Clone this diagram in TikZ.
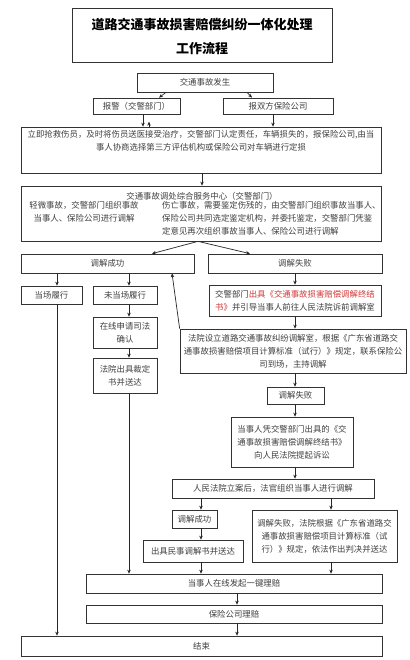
\documentclass[tikz,border=0pt]{standalone}
\usepackage{fontspec}
\setmainfont{Noto Sans CJK SC}
\usetikzlibrary{arrows.meta}
\definecolor{hong}{RGB}{210,55,55}
\newcommand{\zsz}{\fontsize{8.4}{13}\selectfont}
\newcommand{\btz}{\fontsize{13}{24}\selectfont\bfseries}

\begin{document}
\begin{tikzpicture}[x=1pt,y=-1pt,
  kuang/.style={draw=black!80,line width=0.7pt,inner sep=0pt,align=center,
                font=\zsz,text=black!75},
  wen/.style={inner sep=0pt,font=\zsz,text=black!75},
  jt/.style={-{Stealth[length=4pt,width=3.5pt]},draw=black!85,line width=0.7pt}]
  \fill[white] (0,0) rectangle (409,660);
  \useasboundingbox (0,0) rectangle (409,660);
  % x positions of the connectors
  \foreach \x in {57,129,143,149,152,159,166,172,198,201,202,237,247,250,252,273,295,331}
    \coordinate (k\x) at (\x,0);
  % title
  \node[kuang,line width=1pt,minimum width=260,minimum height=54,font=\btz,text=black]
    (bt) at (202,36) {道路交通事故损害赔偿纠纷一体化处理\\工作流程};
  % top part
  \node[kuang,minimum width=136,minimum height=19] (fs)  at (205,82.5) {交通事故发生};
  \node[kuang,minimum width=87,minimum height=16]  (bj)  at (136.5,106) {报警（交警部门）};
  \node[kuang,minimum width=110,minimum height=16] (bx)  at (278,106) {报双方保险公司};
  \node[kuang,minimum width=360,minimum height=46] (lj)  at (201,150) {};
  \node[wen,anchor=north,align=center] (ljw) at ([yshift=-4pt]lj.north)
    {立即抢救伤员，及时将伤员送医接受治疗，交警部门认定责任，车辆损失的，报保险公司,由当\\
     事人协商选择第三方评估机构或保险公司对车辆进行定损};
  \node[kuang,minimum width=360,minimum height=55] (tc)  at (201,213.5) {};
  \node[wen] (tcw) at (202,196) {交通事故调处综合服务中心（交警部门）};
  \node[wen,align=center] (qw) at (84,211.5)
    {轻微事故，交警部门组织事故\\当事人、保险公司进行调解};
  \node[wen,align=left,anchor=west] (sw) at (162,218)
    {伤亡事故，需要鉴定伤残的，由交警部门组织事故当事人、\\
     保险公司共同选定鉴定机构，并委托鉴定，交警部门凭鉴\\
     定意见再次组织事故当事人、保险公司进行调解};
  \node[kuang,minimum width=173,minimum height=19] (cg1) at (107.5,263.5) {调解成功};
  \node[kuang,minimum width=174,minimum height=19] (sb1) at (295,263.5) {调解失败};
  % left column
  \node[kuang,minimum width=61,minimum height=18]  (dc)  at (51.5,295) {当场履行};
  \node[kuang,minimum width=64,minimum height=18]  (wdc) at (125,295) {未当场履行};
  \node[kuang,minimum width=64,minimum height=31]  (zx)  at (125,332.5) {在线申请司法\\确认};
  \node[kuang,minimum width=64,minimum height=35]  (cd)  at (125,375.5) {法院出具裁定\\书并送达};
  % right column
  \node[kuang,minimum width=172,minimum height=31] (cj)  at (295,300.5)
    {交警部门\textcolor{hong}{出具《交通事故损害赔偿调解终结}\\
     \textcolor{hong}{书》}并引导当事人前往人民法院诉前调解室};
  \node[kuang,minimum width=226,minimum height=44] (fy)  at (293,351)
    {法院设立道路交通事故纠纷调解室，根据《广东省道路交\\
     通事故损害赔偿项目计算标准（试行）》规定，联系保险公\\
     司到场，主持调解};
  \node[kuang,minimum width=57,minimum height=17]  (sb2) at (295.5,395.5) {调解失败};
  \node[kuang,minimum width=122,minimum height=50] (ss)  at (292,442)
    {当事人凭交警部门出具的《交\\通事故损害赔偿调解终结书》\\向人民法院提起诉讼};
  \node[kuang,minimum width=202,minimum height=19] (la)  at (273,488.5)
    {人民法院立案后，法官组织当事人进行调解};
  \node[kuang,minimum width=45,minimum height=18]  (cg2) at (194.5,519) {调解成功};
  \node[kuang,minimum width=145,minimum height=52] (pj)  at (324.5,536)
    {调解失败，法院根据《广东省道路交\\通事故损害赔偿项目计算标准（试\\行）》规定，依法作出判决并送达};
  \node[kuang,minimum width=100,minimum height=22] (ms)  at (193,551) {出具民事调解书并送达};
  % bottom part
  \node[kuang,minimum width=296,minimum height=19] (lp)  at (234,583.5) {当事人在线发起一键理赔};
  \node[kuang,minimum width=296,minimum height=18] (bl)  at (234,614) {保险公司理赔};
  \node[kuang,minimum width=361,minimum height=20] (end) at (201.5,646) {结束};
  % connectors
  \draw[jt] (fs.south -| k166) -- (bj.north -| k159);
  \draw[jt] (fs.south -| k247) -- (bx.north -| k252);
  \draw[jt] (bj.south -| k143) -- (lj.north -| k143);
  \draw[jt] (lj.north -| k149) -- ++(0,-5);
  \draw[jt] (bx.south -| k273) -- (lj.north -| k273);
  \draw[jt] (lj.south -| k202) -- (tc.north -| k202);
  \draw[jt] (tc.south -| k198) -- (cg1.north -| k152);
  \draw[jt] (tc.south -| k198) -- (sb1.north -| k250);
  \draw[jt] (cg1.south -| k57) -- (dc.north -| k57);
  \draw[jt] (cg1.south -| k129) -- (wdc.north -| k129);
  \draw[jt] (wdc.south -| k129) -- (zx.north -| k129);
  \draw[jt] (zx.south -| k129) -- (cd.north -| k129);
  \draw[jt] (cd.south -| k129) -- (lp.north -| k129);
  \draw[jt] (dc.south -| k57) -- (end.north -| k57);
  \draw[jt] (fy.north west) -- (cg1.south -| k172);
  \draw[jt] (sb1.south -| k295) -- (cj.north -| k295);
  \draw[jt] (cj.south -| k295) -- (fy.north -| k295);
  \draw[jt] (fy.south -| k295) -- (sb2.north -| k295);
  \draw[jt] (sb2.south -| k295) -- (ss.north -| k295);
  \draw[jt] (ss.south -| k295) -- (la.north -| k295);
  \draw[jt] (la.south -| k201) -- (cg2.north -| k201);
  \draw[jt] (la.south -| k331) -- (pj.north -| k331);
  \draw[jt] (cg2.south -| k201) -- (ms.north -| k201);
  \draw[jt] (ms.south -| k201) -- (lp.north -| k201);
  \draw[jt] (pj.south -| k331) -- (lp.north -| k331);
  \draw[jt] (lp.south -| k237) -- (bl.north -| k237);
  \draw[jt] (bl.south -| k237) -- (end.north -| k237);
\end{tikzpicture}
\end{document}
